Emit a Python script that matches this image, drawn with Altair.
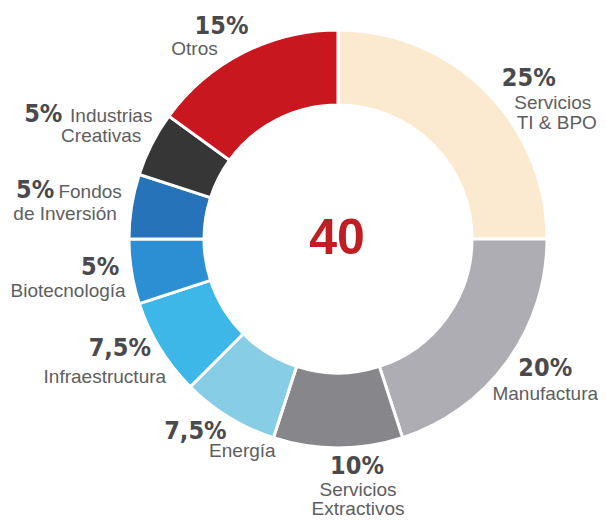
import altair as alt
import pandas as pd

# ---- data ----
categories = ["Servicios TI & BPO", "Manufactura", "Servicios Extractivos", "Energía",
              "Infraestructura", "Biotecnología", "Fondos de Inversión",
              "Industrias Creativas", "Otros"]
values = [25, 20, 10, 7.5, 7.5, 5, 5, 5, 15]
pct_labels = ["25%", "20%", "10%", "7,5%", "7,5%", "5%", "5%", "5%", "15%"]
name_lines = [["Servicios", "TI & BPO"], ["Manufactura"], ["Servicios", "Extractivos"],
              ["Energía"], ["Infraestructura"], ["Biotecnología"],
              ["Fondos", "de Inversión"], ["Industrias", "Creativas"], ["Otros"]]
center_value = "40"

# ---- styles ----
colors = ["#FCEAD0", "#AEADB3", "#87868B", "#88CDE6", "#3DB6E8", "#2C8FD3",
          "#2773B9", "#363636", "#C8171E"]
PCT_FONT = "DejaVu Sans Condensed"
NAME_FONT = "Liberation Sans"
# label layout offsets (pct offset, list of name-line offsets) relative to label ring
layout = [
    ((14, 24), [(38, 47), (42, 67)]),
    ((5, -10), [(5, 14)]),
    ((19, -15), [(20, 7), (20, 26)]),
    ((-12, -13), [(35, 5)]),
    ((-5, -14), [(-20, 13)]),
    ((9, -3), [(-23, 19)]),
    ((-56, -2), [(-1, -2), (-26, 20)]),
    ((-72, -4), [(-4, -4), (-14, 16)]),
    ((-3, 18), [(-30, 39)]),
]

W, H = 520, 440
OUTER, INNER, LABEL_R = 209, 134, 250

df = pd.DataFrame({"category": categories, "value": values,
                   "pct": pct_labels, "idx": list(range(len(categories)))})

theta_scale = alt.Scale(domain=[0, 100])

base = alt.Chart(df).transform_window(
    cum="sum(value)", sort=[alt.SortField("idx", order="ascending")]
).transform_calculate(
    start="datum.cum - datum.value",
    mid="datum.cum - datum.value / 2",
)

arcs = base.mark_arc(radius=OUTER, radius2=INNER, stroke="white", strokeWidth=3).encode(
    theta=alt.Theta("start:Q", scale=theta_scale),
    theta2="cum:Q",
    color=alt.Color("category:N", scale=alt.Scale(domain=categories, range=colors), legend=None),
)

layers = [arcs]
for i, cat in enumerate(categories):
    (pdx, pdy), name_offs = layout[i]
    sub = base.transform_filter(alt.datum.category == cat)
    layers.append(
        sub.mark_text(radius=LABEL_R, dx=pdx, dy=pdy, align="center", baseline="alphabetic",
                      font=PCT_FONT, fontSize=25, fontWeight="bold", color="#4A4A4C").encode(
            theta=alt.Theta("mid:Q", scale=theta_scale),
            text="pct:N",
        )
    )
    for line, (ndx, ndy) in zip(name_lines[i], name_offs):
        layers.append(
            sub.mark_text(radius=LABEL_R, dx=ndx, dy=ndy, align="center", baseline="alphabetic",
                          font=NAME_FONT, fontSize=19, color="#5E5E60").encode(
                theta=alt.Theta("mid:Q", scale=theta_scale),
                text=alt.value(line),
            )
        )

center = alt.Chart(pd.DataFrame({"t": [center_value]})).mark_text(
    align="center", baseline="alphabetic", font="Liberation Sans",
    fontSize=50, fontWeight="bold", color="#BF1E25"
).encode(x=alt.value(W / 2 - 1), y=alt.value(H / 2 + 15), text="t:N")
layers.append(center)

chart = alt.layer(*layers).properties(
    width=W, height=H,
    padding={"left": 70, "top": 11, "right": 0, "bottom": 59},
    autosize=alt.AutoSizeParams(type="none"),
    background="white",
).configure_view(strokeWidth=0)

chart.save("out.html", embed_options={"renderer": "svg", "actions": False})
